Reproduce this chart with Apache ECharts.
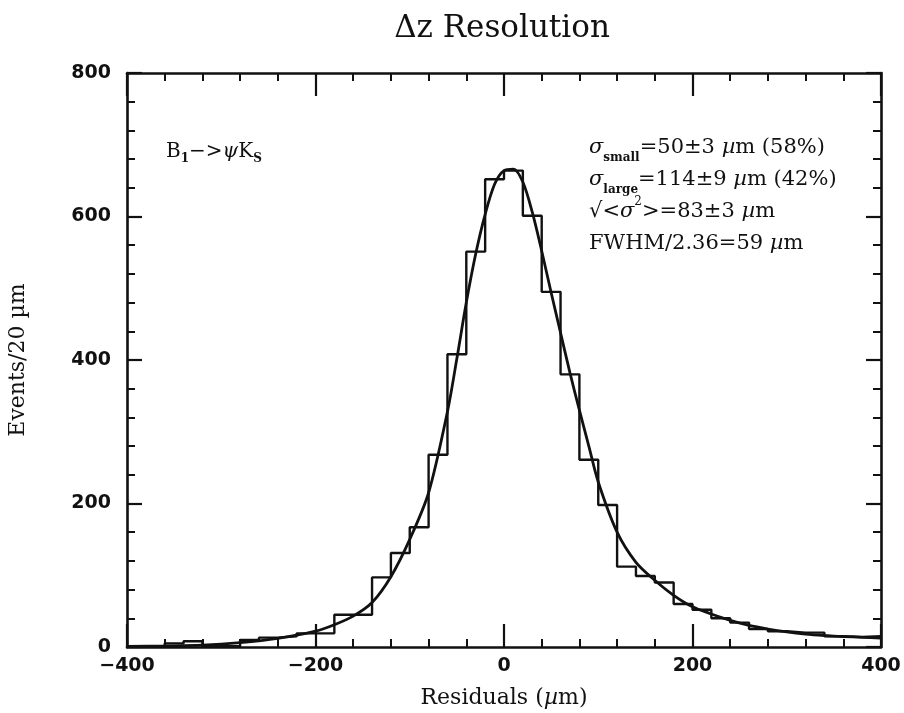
<!DOCTYPE html>
<html>
<head>
<meta charset="utf-8">
<script src="https://cdn.jsdelivr.net/npm/echarts@6/dist/echarts.min.js"></script>
<style>html,body{margin:0;padding:0;background:#fff;}#c{width:904px;height:713px;}</style>
</head>
<body>
<div id="c"></div>
<script>
// Histogram bins (20 µm wide), left edges
const binEdges = [-400,-380,-360,-340,-320,-300,-280,-260,-240,-220,-200,-180,-160,-140,-120,-100,-80,-60,-40,-20,
                  0,20,40,60,80,100,120,140,160,180,200,220,240,260,280,300,320,340,360,380];
const binCounts = [1,1,5,8,1,1,10,13,15,19,19,45,45,97,131,167,268,408,551,652,
                   664,601,495,380,261,198,112,99,90,60,52,40,34,25,22,20,20,15,14,15];
const binUpper = 400;
// Fit curve
const fitX = [-400,-360,-320,-280,-240,-200,-180,-160,-140,-120,-100,-80,-60,-50,-40,-30,-20,-10,0,10,20,30,40,50,60,70,80,90,100,120,140,160,180,200,220,240,260,280,300,320,340,360,380,400];
const fitY = [1,1.5,2.5,6,12,22,31,43,62,98,150,215,328,402,480,548,603,645,664,666,648,606,552,494,438,382,330,280,230,160,118,93,72,56,46,37,30,25,21,18,16,14.5,13.5,12.5];
// Axis ticks
const xTickValues = [-400,-200,0,200,400];
const yTickValues = [0,200,400,600,800];

const histData = binEdges.map((e,i)=>[e,binCounts[i]]);
histData.push([binUpper, binCounts[binCounts.length-1]]);
const fitData = fitX.map((x,i)=>[x,fitY[i]]);

const serif = "'DejaVu Serif', 'Liberation Serif', serif";
const sans = "'DejaVu Sans', 'Liberation Sans', sans-serif";
const black = '#111';

function axisCommon(show, isX){
  return {
    type:'value',
    min: isX ? xTickValues[0] : yTickValues[0],
    max: isX ? xTickValues[xTickValues.length-1] : yTickValues[yTickValues.length-1],
    interval: 200,
    axisLine:{show:true, onZero:false, lineStyle:{color:black,width:2.6}},
    axisTick:{show:true, inside:true, length: isX?23:15, lineStyle:{color:black,width:2.2}},
    minorTick:{show:true, splitNumber:5, length:8, lineStyle:{color:black,width:2}},
    splitLine:{show:false},
    minorSplitLine:{show:false},
    axisLabel:{show:show, color:black, fontFamily:sans, fontSize:19, fontWeight:'bold', margin: isX?10:16,
      formatter: v => (v<0 ? '\u2212'+Math.abs(v) : String(v))}
  };
}

const chart = echarts.init(document.getElementById('c'), null, {renderer:'canvas'});
chart.setOption({
  backgroundColor:'#fff',
  animation:false,
  grid:{left:127, right:23, top:73, bottom:66, containLabel:false, outerBoundsMode:'none'},
  xAxis:[
    Object.assign(axisCommon(true,true), {position:'bottom',
      name:'Residuals ({i|\u00b5}m)', nameLocation:'middle', nameGap:40,
      nameTextStyle:{color:black, fontFamily:serif, fontSize:22, rich:{i:{fontStyle:'italic', fontFamily:serif, fontSize:22, color:black}}}}),
    Object.assign(axisCommon(false,true), {position:'top'})
  ],
  yAxis:[
    Object.assign(axisCommon(true,false), {position:'left',
      name:'Events/20 \u00b5m', nameLocation:'middle', nameGap:98,
      nameTextStyle:{color:black, fontFamily:serif, fontSize:22}}),
    Object.assign(axisCommon(false,false), {position:'right'})
  ],
  series:[
    {type:'line', data:histData, step:'end', symbol:'none', xAxisIndex:0, yAxisIndex:0,
      lineStyle:{color:black, width:2.4}, z:3},
    {type:'line', data:fitData, smooth:0.3, symbol:'none', xAxisIndex:0, yAxisIndex:0,
      lineStyle:{color:black, width:2.8}, z:4}
  ],
  graphic:[
    {type:'text', x:502, y:29, style:{text:'\u0394z Resolution', fill:black, font:"31px 'DejaVu Serif'", textAlign:'center', textVerticalAlign:'middle'}},
    {type:'text', x:166, y:152, style:{
      text:'B{sub|1}\u2212>{it|\u03c8}K{sub|S}', fill:black, font:"20px 'DejaVu Serif'", textVerticalAlign:'middle',
      rich:{
        sub:{fontSize:12, fontWeight:'bold', fontFamily:serif, lineHeight:13, verticalAlign:'bottom', fill:black},
        it:{fontStyle:'italic', fontSize:20, fontFamily:serif, lineHeight:26, fill:black}
      }}},
    {type:'text', x:589, y:196, style:{
      text:'{it|\u03c3}{sub|small}=50\u00b13 {it|\u00b5}m (58%)\n{it|\u03c3}{sub|large}=114\u00b19 {it|\u00b5}m (42%)\n\u221a<{it|\u03c3}{sup|2}>=83\u00b13 {it|\u00b5}m\nFWHM/2.36=59 {it|\u00b5}m',
      fill:black, font:"21px 'DejaVu Serif'", lineHeight:32, textVerticalAlign:'middle',
      rich:{
        it:{fontStyle:'italic', fontSize:21, fontFamily:serif, lineHeight:32, fill:black},
        sub:{fontSize:12, fontWeight:'bold', fontFamily:serif, lineHeight:14, verticalAlign:'bottom', fill:black},
        sup:{fontSize:12, fontFamily:serif, lineHeight:16, verticalAlign:'top', fill:black}
      }}}
  ]
});
</script>
</body>
</html>
